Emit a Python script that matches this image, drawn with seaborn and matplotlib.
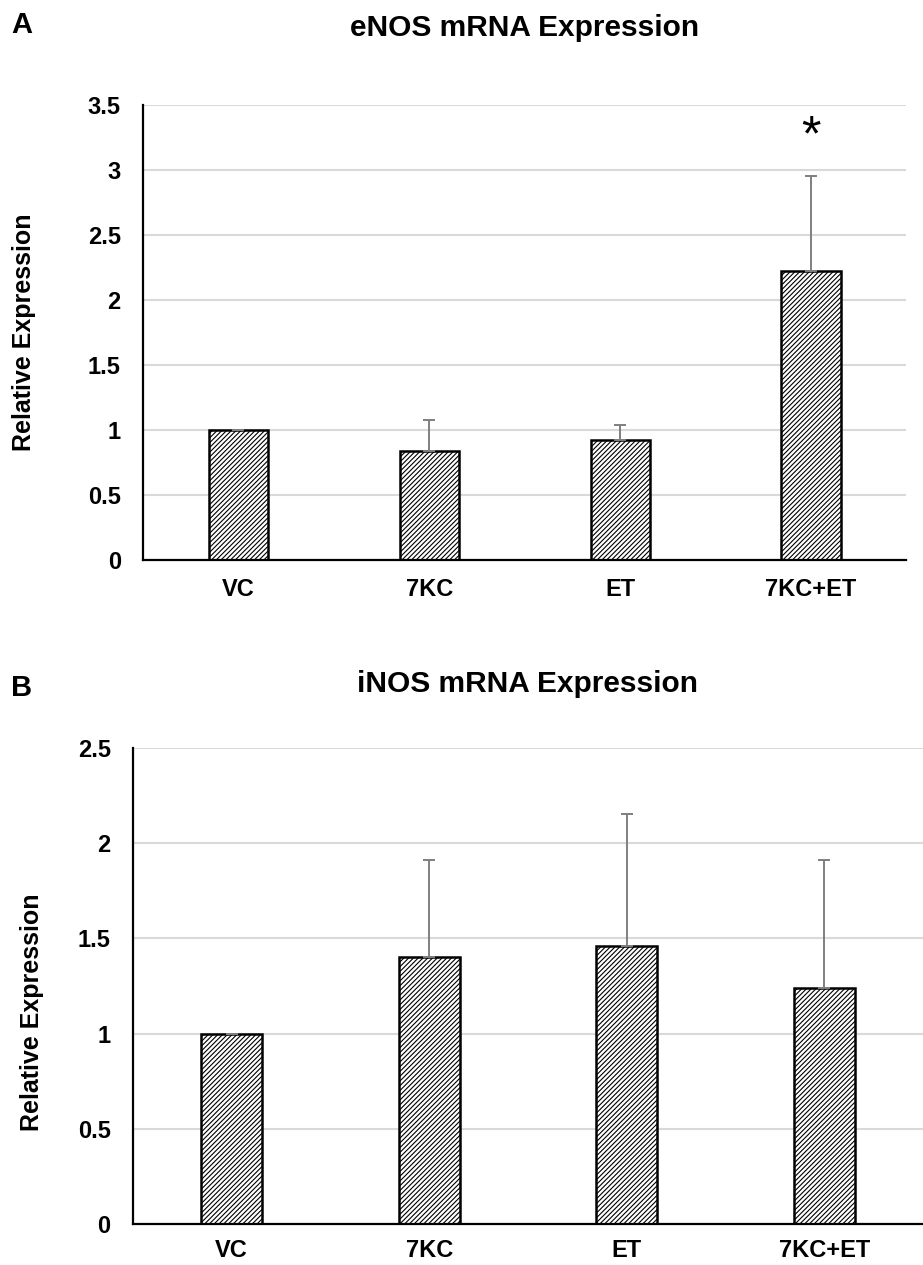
import matplotlib
matplotlib.use("Agg")
from matplotlib import pyplot as plt
from matplotlib import transforms as mtransforms
import seaborn as sns

categories = ["VC", "7KC", "ET", "7KC+ET"]

enos_mean = [1.0, 0.84, 0.92, 2.22]
enos_err = [0.0, 0.24, 0.12, 0.73]

inos_mean = [1.0, 1.40, 1.46, 1.24]
inos_err = [0.0, 0.51, 0.69, 0.67]


def plot_panel(fig, ax, mean, err, title, ymax, title_pad, label_xy, xpad, star=None):
    sns.barplot(
        x=categories, y=mean, ax=ax, color="white", edgecolor="black",
        linewidth=1.8, width=0.31, hatch="///////", saturation=1,
    )
    ax.errorbar(
        range(len(categories)), mean, yerr=[[0] * len(err), err],
        fmt="none", ecolor="#7f7f7f", elinewidth=1.4, capsize=4.5, capthick=1.4,
    )
    ax.set_ylim(0, ymax)
    ticks = [i * 0.5 for i in range(int(round(ymax / 0.5)) + 1)]
    ax.set_yticks(ticks)
    ax.set_yticklabels([f"{t:g}" for t in ticks])
    ax.set_xlim(-0.5, len(categories) - 0.5)
    ax.grid(axis="y", color="#d9d9d9", linewidth=1.5)
    ax.grid(axis="x", visible=False)
    ax.set_axisbelow(True)
    for side in ["top", "right"]:
        ax.spines[side].set_visible(False)
    for side in ["left", "bottom"]:
        ax.spines[side].set_color("black")
        ax.spines[side].set_linewidth(1.6)
    ax.tick_params(length=0, labelsize=17, colors="black")
    ax.tick_params(axis="y", pad=16)
    ax.tick_params(axis="x", pad=xpad)
    for lab in ax.get_xticklabels() + ax.get_yticklabels():
        lab.set_fontweight("bold")
    ax.set_ylabel("Relative Expression", fontsize=18, fontweight="bold", color="black")
    trans = mtransforms.blended_transform_factory(fig.transFigure, ax.transAxes)
    ax.yaxis.set_label_coords(label_xy[0], label_xy[1], transform=trans)
    ax.set_xlabel("")
    ax.set_title(title, fontsize=21.5, fontweight="bold", pad=title_pad, color="black")
    if star is not None:
        ax.text(3, star, "*", ha="center", va="center", fontsize=36, color="black")


if __name__ == "__main__":
    sns.set_theme(style="whitegrid")
    plt.rcParams["font.family"] = ["Liberation Sans", "DejaVu Sans"]
    plt.rcParams["hatch.linewidth"] = 0.8
    plt.rcParams["text.color"] = "black"

    fig = plt.figure(figsize=(9.23, 12.65), dpi=100)
    ax_a = fig.add_axes([0.155, 0.5573, 0.827, 0.3597])
    ax_b = fig.add_axes([0.144, 0.0324, 0.856, 0.3765])

    plot_panel(fig, ax_a, enos_mean, enos_err, "eNOS mRNA Expression", 3.5, 50,
               (0.039, 0.5), 13, star=3.25)
    plot_panel(fig, ax_b, inos_mean, inos_err, "iNOS mRNA Expression", 2.5, 40,
               (0.048, 0.445), 11)

    fig.text(0.012, 0.980, "A", fontsize=21, fontweight="bold", va="center")
    fig.text(0.012, 0.456, "B", fontsize=21, fontweight="bold", va="center")

    fig.savefig("out.png", dpi=100, facecolor="white")
